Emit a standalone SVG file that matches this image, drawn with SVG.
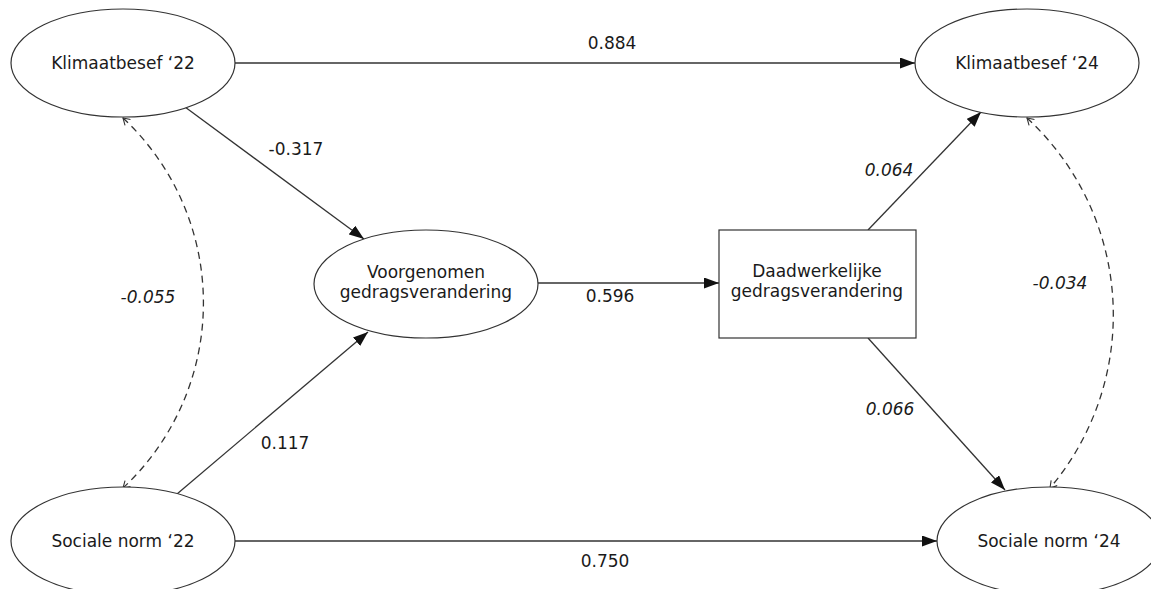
<svg xmlns="http://www.w3.org/2000/svg" width="1151" height="589" viewBox="0 0 1151 589">
<style>
  .node { fill: #ffffff; stroke: #333333; stroke-width: 1.2; }
  .lbl { font-family: "DejaVu Sans", Verdana, sans-serif; font-size: 17px; fill: #1a1a1a; text-anchor: middle; }
  .it { font-style: italic; }
  .edge { stroke: #333333; stroke-width: 1.3; fill: none; }
  .dash { stroke: #333333; stroke-width: 1.3; fill: none; stroke-dasharray: 7,5; }
</style>
<defs>
  <marker id="arr" markerUnits="userSpaceOnUse" markerWidth="15" markerHeight="11" refX="15" refY="5.5" orient="auto">
    <path d="M0,0 L15,5.5 L0,11 z" fill="#111111"/>
  </marker>
  <marker id="open" markerUnits="userSpaceOnUse" markerWidth="8" markerHeight="9" refX="7" refY="4.5" orient="auto-start-reverse">
    <path d="M0.5,0.5 L7,4.5 L0.5,8.5" fill="none" stroke="#333333" stroke-width="1.1"/>
  </marker>
</defs>
<rect width="1151" height="589" fill="#ffffff"/>

<g id="connectors">
  <line class="edge" x1="235" y1="63" x2="915" y2="63" marker-end="url(#arr)"/>
  <line class="edge" x1="235" y1="541" x2="937" y2="541" marker-end="url(#arr)"/>
  <line class="edge" x1="185" y1="107" x2="364" y2="239" marker-end="url(#arr)"/>
  <line class="edge" x1="177" y1="494" x2="368" y2="332" marker-end="url(#arr)"/>
  <line class="edge" x1="538" y1="283" x2="719" y2="283" marker-end="url(#arr)"/>
  <line class="edge" x1="868" y1="230" x2="981" y2="112" marker-end="url(#arr)"/>
  <line class="edge" x1="868" y1="338" x2="1005" y2="490" marker-end="url(#arr)"/>
  <path class="dash" d="M123,118 A253,253 0 0,1 123,488" marker-start="url(#open)" marker-end="url(#open)"/>
  <path class="dash" d="M1027,118 A268,268 0 0,1 1050,488" marker-start="url(#open)" marker-end="url(#open)"/>
  <text class="lbl" x="612" y="49">0.884</text>
  <text class="lbl" x="605" y="567">0.750</text>
  <text class="lbl" x="296" y="155">-0.317</text>
  <text class="lbl" x="285" y="449">0.117</text>
  <text class="lbl" x="610" y="302">0.596</text>
  <text class="lbl it" x="889" y="176">0.064</text>
  <text class="lbl it" x="890" y="415">0.066</text>
  <text class="lbl it" x="148" y="303">-0.055</text>
  <text class="lbl it" x="1060" y="289">-0.034</text>
</g>

<g id="klimaatbesef22">
  <ellipse class="node" cx="123" cy="63" rx="112" ry="54"/>
  <text class="lbl" x="123" y="69">Klimaatbesef ‘22</text>
</g>
<g id="socialenorm22">
  <ellipse class="node" cx="123" cy="541" rx="112" ry="54"/>
  <text class="lbl" x="123" y="547">Sociale norm ‘22</text>
</g>
<g id="voorgenomen">
  <ellipse class="node" cx="426" cy="284" rx="112" ry="54"/>
  <text class="lbl" x="426" y="278">Voorgenomen</text>
  <text class="lbl" x="426" y="298">gedragsverandering</text>
</g>
<g id="daadwerkelijke">
  <rect class="node" x="719" y="230" width="197" height="108"/>
  <text class="lbl" x="817" y="277">Daadwerkelijke</text>
  <text class="lbl" x="817" y="297">gedragsverandering</text>
</g>
<g id="klimaatbesef24">
  <ellipse class="node" cx="1027" cy="63" rx="112" ry="54"/>
  <text class="lbl" x="1027" y="69">Klimaatbesef ‘24</text>
</g>
<g id="socialenorm24">
  <ellipse class="node" cx="1049" cy="541" rx="112" ry="54"/>
  <text class="lbl" x="1049" y="547">Sociale norm ‘24</text>
</g>
</svg>
